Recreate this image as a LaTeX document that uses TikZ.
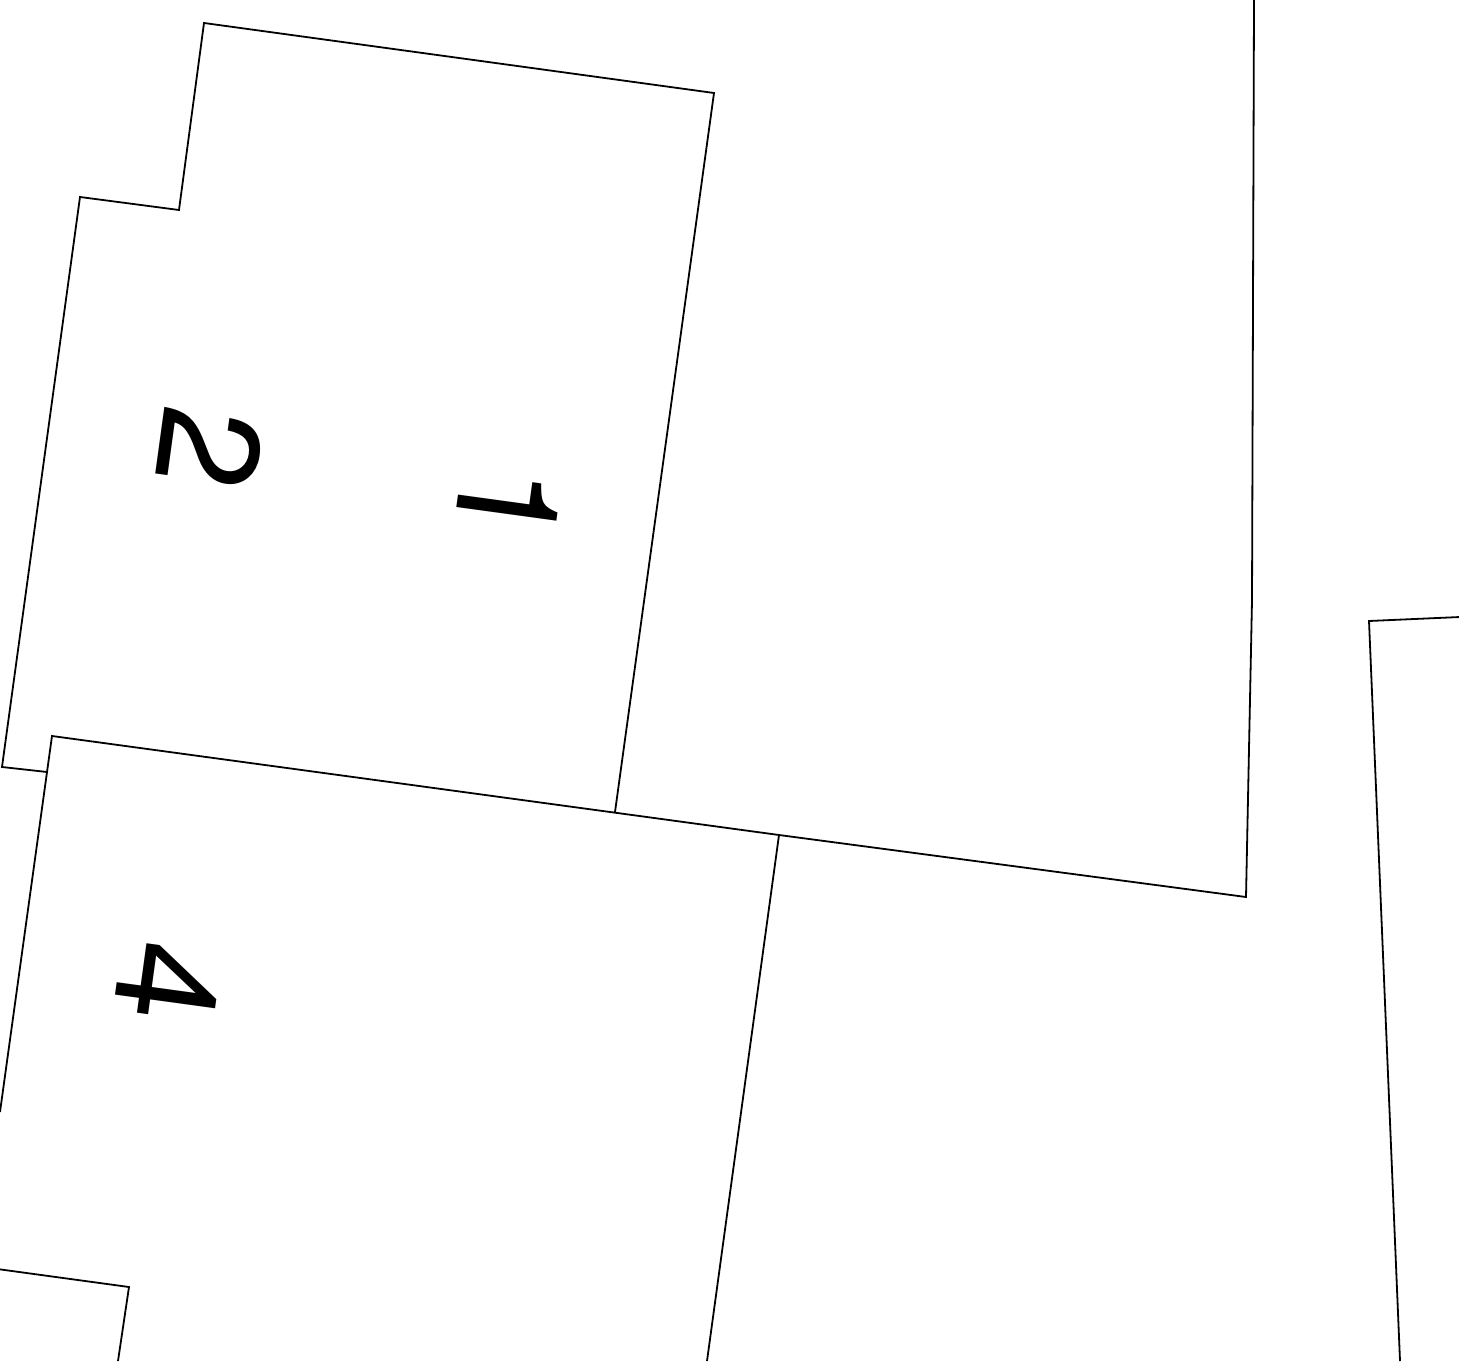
\documentclass[tikz,border=0pt]{standalone}
\usepackage{fontspec}
\setmainfont{TeX Gyre Heros}
\begin{document}
\begin{tikzpicture}[x=1bp,y=-1bp,
  wall/.style={draw=black,line width=1.8bp,line join=miter},
  roomlabel/.style={inner sep=0pt,font=\fontsize{143}{150}\selectfont,rotate=-97.8}]
\useasboundingbox (0,0) rectangle (1459,1368);
\clip (0,0) rectangle (1459,1368);
% rooms 1 and 2
\draw[wall] (47,772) -- (2,767) -- (80,197) -- (179,210) -- (204,23) -- (714,93) -- (615,812);
% long line: top of room 4 / bottom of big room
\draw[wall] (0,1112) -- (52,736) -- (779,835) -- (1246,897) -- (1252,600) -- (1254,0);
% room 4 right edge
\draw[wall] (779,835) -- (707,1361);
% bottom-left room
\draw[wall] (-10,1268) -- (129,1287) -- (118,1361);
% far right room
\draw[wall] (1460,617) -- (1369,621) -- (1400,1361);
% labels
\node[roomlabel] (n1) at (508,505) {1};
\node[roomlabel] (n2) at (210,449) {2};
\node[roomlabel] (n4) at (168,983) {4};
\end{tikzpicture}
\end{document}
